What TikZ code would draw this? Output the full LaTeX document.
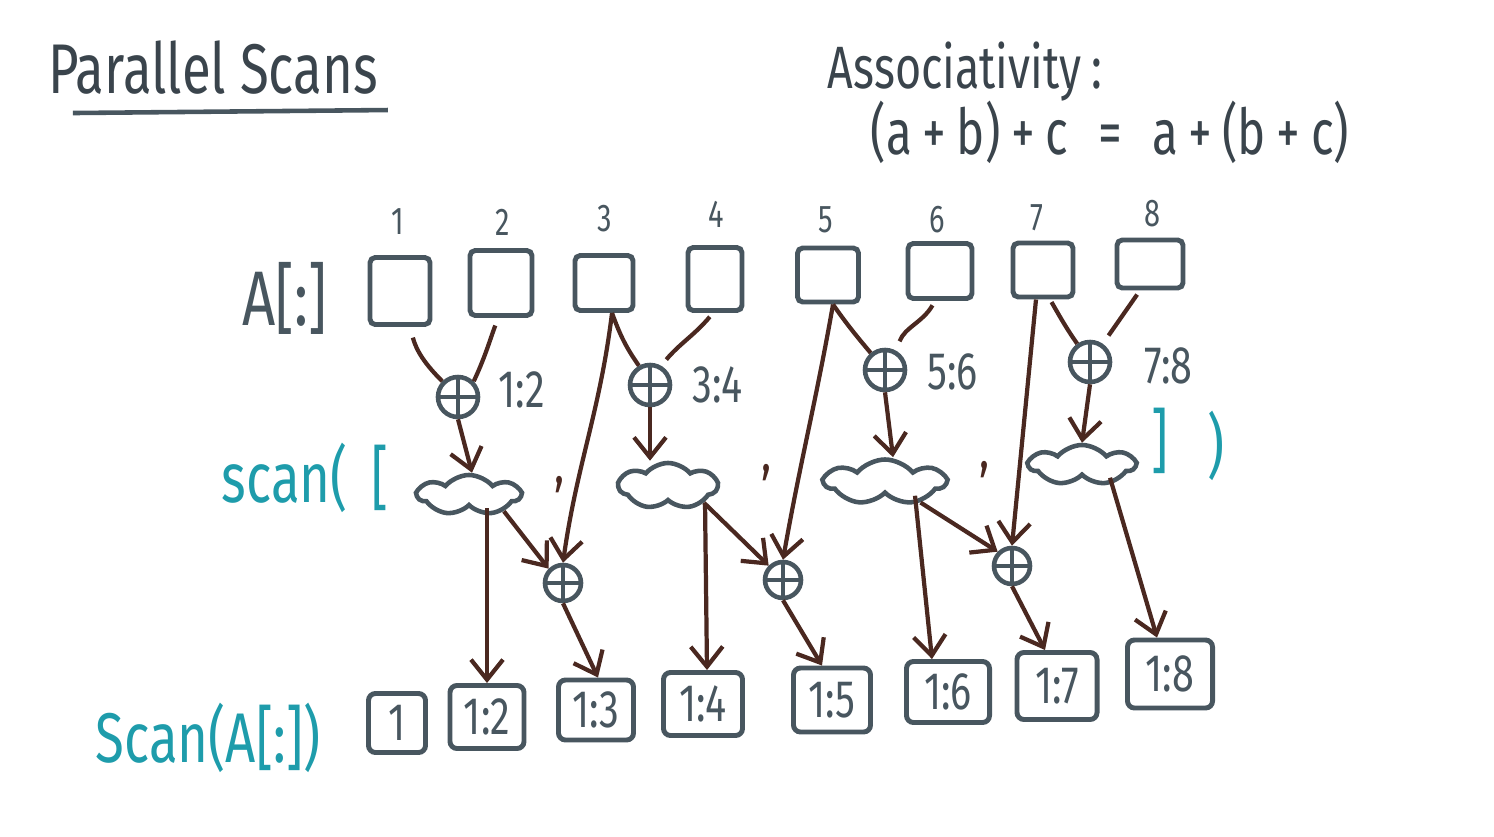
\documentclass[tikz,border=0pt]{standalone}
\usepackage{fontspec}
\setmainfont{Fira Sans}[FakeStretch=0.75]
\usetikzlibrary{arrows.meta,shapes.symbols,calc}
\definecolor{slate}{HTML}{48565F}
\definecolor{brn}{HTML}{4A2820}
\definecolor{tealc}{HTML}{1E9CAB}
\definecolor{ink}{HTML}{3A444C}
\begin{document}
\begin{tikzpicture}[x=0.01cm,y=-0.01cm,
  abox/.style={draw=slate, line width=1.4pt, rounded corners=1.5pt, inner sep=0pt},
  rbox/.style={draw=slate, line width=1.4pt, rounded corners=2pt, inner sep=0pt, text=slate, font=\fontsize{15}{18}\selectfont},
  idx/.style={text=slate, font=\fontsize{11}{13}\selectfont},
  lbl/.style={text=slate, font=\fontsize{15}{18}\selectfont, anchor=west},
  oplus/.style={circle, draw=slate, line width=1.3pt, minimum size=#1, inner sep=0pt,
    path picture={\draw[slate, line width=1.2pt]
      (path picture bounding box.north) -- (path picture bounding box.south)
      (path picture bounding box.west) -- (path picture bounding box.east);}},
  cloudn/.style={cloud, cloud puffs=7, cloud puff arc=100, cloud ignores aspect, draw=slate, line width=1.3pt, inner sep=0pt},
  ln/.style={brn, line width=1.2pt},
  arr/.style={brn, line width=1.2pt, -{Straight Barb[length=2mm,width=3.2mm]}},
  tl/.style={text=tealc},
  commac/.style={text=brn, font=\fontsize{16}{18}\selectfont}
]
\useasboundingbox (0,0) rectangle (1494,836);

% title
\node[text=ink, font=\fontsize{20}{24}\selectfont] (title) at (213,68) {Parallel Scans};
\draw[slate, line width=1.3pt] ([xshift=-1.4cm,yshift=-0.45cm]title.center) coordinate (u1) -- ++(315,-3) coordinate (u2);
\node[text=ink, font=\fontsize{17}{20}\selectfont] (assoc) at (965,72) {Associativity\,:};
\node[text=ink, font=\fontsize{18}{22}\selectfont] (eq) at (1110,132) {(a\,+\,b)\,+\,c \;=\; a\,+\,(b\,+\,c)};

% A[:]
\node[text=slate, font=\fontsize{22}{26}\selectfont] (alab) at (285,298) {A[:]};

% top boxes
\node[abox, minimum width=0.60cm, minimum height=0.67cm] (a1) at (400,291) {};
\node[abox, minimum width=0.62cm, minimum height=0.65cm] (a2) at (501,283) {};
\node[abox, minimum width=0.58cm, minimum height=0.55cm] (a3) at (604,283) {};
\node[abox, minimum width=0.54cm, minimum height=0.63cm] (a4) at (715,279) {};
\node[abox, minimum width=0.61cm, minimum height=0.54cm] (a5) at (828,275) {};
\node[abox, minimum width=0.64cm, minimum height=0.55cm] (a6) at (940,271) {};
\node[abox, minimum width=0.60cm, minimum height=0.54cm] (a7) at (1043,270) {};
\node[abox, minimum width=0.66cm, minimum height=0.48cm] (a8) at (1150,264) {};

% indices
\node[idx] (n1) at (398,222) {1};
\node[idx] (n2) at (503,222) {2};
\node[idx] (n3) at (605,219) {3};
\node[idx] (n4) at (716,214) {4};
\node[idx] (n5) at (826,220) {5};
\node[idx] (n6) at (937,220) {6};
\node[idx] (n7) at (1037,218) {7};
\node[idx] (n8) at (1152,214) {8};

% first-level pluses
\node[oplus=0.40cm] (p12) at (458,397) {};
\node[oplus=0.40cm] (p34) at (650,385) {};
\node[oplus=0.40cm] (p56) at (885,370) {};
\node[oplus=0.40cm] (p78) at (1090,362) {};
\node[lbl] (l12) at (486,390) {1:2};
\node[lbl] (l34) at (680,385) {3:4};
\node[lbl] (l56) at (915,372) {5:6};
\node[lbl] (l78) at (1132,366) {7:8};

% clouds
\node[cloudn, minimum width=1.02cm, minimum height=0.40cm] (c1) at (469,495) {};
\node[cloudn, minimum width=0.98cm, minimum height=0.46cm] (c2) at (668,486) {};
\node[cloudn, minimum width=1.20cm, minimum height=0.45cm] (c3) at (885,482) {};
\node[cloudn, minimum width=1.05cm, minimum height=0.40cm] (c4) at (1082,465) {};

% scan( [ ... ] )
\node[tl, font=\fontsize{20}{24}\selectfont] (scanl) at (305,478) {scan(\,\,[};
\node[tl, font=\fontsize{20}{24}\selectfont] (rbr) at (1160,441) {]};
\node[tl, font=\fontsize{20}{24}\selectfont] (rpar) at (1216,446) {)};
\node[commac] (k1) at (560,485) {,};
\node[commac] (k2) at (767,473) {,};
\node[commac] (k3) at (985,470) {,};

% second-level pluses
\node[oplus=0.36cm] (q1) at (563,583) {};
\node[oplus=0.36cm] (q2) at (783,580) {};
\node[oplus=0.36cm] (q3) at (1012,566) {};

% result boxes
\node[rbox, minimum width=0.57cm, minimum height=0.59cm] (r1) at (397,723) {1};
\node[rbox, minimum width=0.74cm, minimum height=0.63cm] (r2) at (487,717) {1:2};
\node[rbox, minimum width=0.75cm, minimum height=0.60cm] (r3) at (596,710) {1:3};
\node[rbox, minimum width=0.79cm, minimum height=0.63cm] (r4) at (703,704) {1:4};
\node[rbox, minimum width=0.77cm, minimum height=0.64cm] (r5) at (832,700) {1:5};
\node[rbox, minimum width=0.83cm, minimum height=0.61cm] (r6) at (948,692) {1:6};
\node[rbox, minimum width=0.80cm, minimum height=0.67cm] (r7) at (1057,686) {1:7};
\node[rbox, minimum width=0.85cm, minimum height=0.68cm] (r8) at (1170,674) {1:8};

\node[tl, font=\fontsize{20}{24}\selectfont] (scanA) at (208,738) {Scan(A[:])};

% top connectors
\draw[ln, shorten <=0.11cm] ([xshift=0.1cm]a1.south) to[out=-75,in=135] (p12.north west);
\draw[ln, shorten <=0.08cm] ([xshift=-0.03cm]a2.south) to[out=-110,in=65] (p12.north east);
\draw[ln] ([xshift=0.08cm]a3.south) to[out=-70,in=125] (p34.120);
\draw[ln, shorten <=0.05cm, shorten >=0.08cm] ([xshift=-0.02cm]a4.south) to[out=-130,in=50] (p34.60);
\draw[ln] ([xshift=0.05cm]a5.south) to[out=-55,in=130] (p56.130);
\draw[ln, shorten <=0.05cm, shorten >=0.1cm] ([xshift=-0.05cm]a6.south) to[out=-120,in=70] (p56.60);
\draw[ln, shorten <=0.03cm] ([xshift=0.07cm]a7.south) to[out=-60,in=125] (p78.125);
\draw[ln, shorten <=0.05cm, shorten >=0.1cm] ([xshift=-0.1cm]a8.south) to[out=-125,in=55] (p78.55);

% long connectors
\draw[arr] ([xshift=0.08cm]a3.south) to[out=-97,in=82] (q1.north);
\draw[arr] ([xshift=0.05cm]a5.south) to[out=-100,in=80] (q2.north);
\draw[arr] ([xshift=-0.07cm]a7.south) -- (q3.north);

% into clouds
\draw[arr] (p12.south) -- ([xshift=0.03cm]c1.north);
\draw[arr] (p34.south) -- (p34.south |- c2.north);
\draw[arr] (p56.south) -- ([xshift=0.08cm]c3.north);
\draw[arr] (p78.south) -- (c4.north);

% out of clouds
\draw[arr] (c1.south -| r2.north) -- (r2.north);
\draw[arr] (c1.-25) -- (q1.north west);
\draw[arr] (q1.south) -- ([xshift=0.02cm]r3.north);
\draw[arr] ([xshift=0.37cm]c2.south) -- ([xshift=0.04cm]r4.north);
\draw[arr] (c2.-25) -- (q2.north west);
\draw[arr] (q2.south) -- ([xshift=-0.1cm]r5.north);
\draw[arr] ([xshift=0.3cm]c3.south) -- ([xshift=-0.16cm]r6.north);
\draw[arr] (c3.-30) -- (q3.north west);
\draw[arr] (q3.south) -- ([xshift=-0.12cm]r7.north);
\draw[arr] ([xshift=0.28cm]c4.south) -- ([xshift=-0.13cm]r8.north);
\end{tikzpicture}
\end{document}
